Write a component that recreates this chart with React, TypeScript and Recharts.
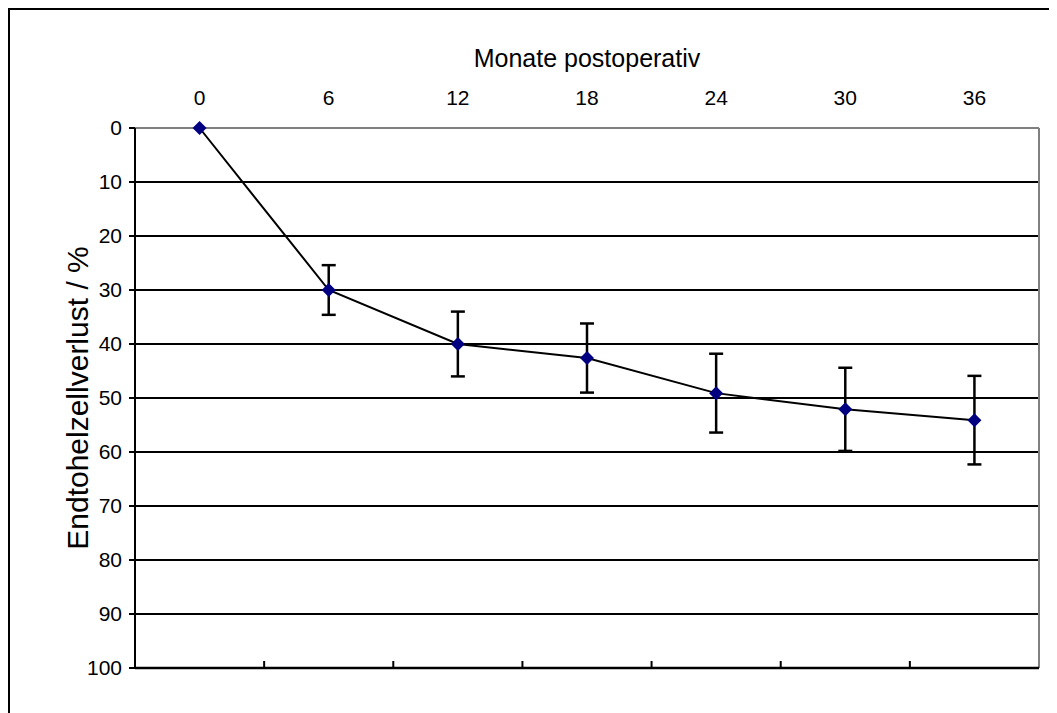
import React from 'react';
import {
  LineChart,
  Line,
  XAxis,
  YAxis,
  CartesianGrid,
  ErrorBar,
  ReferenceLine,
} from 'recharts';

// Endothelzellverlust nach Monaten postoperativ (Mittelwert ± SD)
const months = [0, 6, 12, 18, 24, 30, 36];
const lossMean = [0, 30, 40, 42.6, 49.1, 52.1, 54.1];
const lossSd = [0, 4.6, 6, 6.4, 7.3, 7.7, 8.2];
const yTicks = [0, 10, 20, 30, 40, 50, 60, 70, 80, 90, 100];
const boundaryTicks = [3, 9, 15, 21, 27, 33];

const data = months.map((m, i) => ({ month: m, loss: lossMean[i], sd: lossSd[i] }));

const FONT = '"Liberation Sans", Arial, sans-serif';

const Diamond = (props: any) => {
  const { cx, cy } = props;
  if (cx == null || cy == null) return null;
  const r = 7;
  return (
    <polygon
      points={`${cx},${cy - r} ${cx + r},${cy} ${cx},${cy + r} ${cx - r},${cy}`}
      fill="#000080"
    />
  );
};

const NoLabel = () => <g />;

const App: React.FC = () => {
  return (
    <div style={{ position: 'relative', width: 1049, height: 705, overflow: 'hidden' }}>
      <div
        style={{
          position: 'absolute',
          left: 0,
          top: 0,
          width: 1060,
          height: 800,
          borderTop: '2px solid #000',
          borderLeft: '2px solid #000',
          boxSizing: 'border-box',
        }}
      />
      <LineChart
        width={1040}
        height={700}
        data={data}
        margin={{ top: 0, right: 9, bottom: 40, left: 0 }}
        style={{ fontFamily: FONT }}
      >
        <CartesianGrid vertical={false} stroke="#000" strokeWidth={2} />
        <XAxis
          dataKey="month"
          type="number"
          orientation="top"
          domain={[-3, 39]}
          ticks={months}
          height={120}
          tickLine={false}
          axisLine={false}
          tickSize={0}
          tickMargin={23}
          tick={{ fill: '#000', fontSize: 21 }}
          label={{
            value: 'Monate postoperativ',
            position: 'insideTop',
            offset: 41,
            fill: '#000',
            fontSize: 25,
          }}
        />
        {/* category boundary ticks pointing up from the bottom line */}
        <XAxis
          xAxisId="bottom"
          dataKey="month"
          type="number"
          orientation="bottom"
          domain={[-3, 39]}
          ticks={boundaryTicks}
          height={40}
          mirror
          tick={<NoLabel />}
          tickSize={7}
          tickLine={{ stroke: '#000', strokeWidth: 2 }}
          axisLine={{ stroke: '#000', strokeWidth: 2.5 }}
        />
        <YAxis
          reversed
          domain={[0, 100]}
          ticks={yTicks}
          width={127}
          tickSize={6}
          tickMargin={7}
          interval={0}
          tick={{ fill: '#000', fontSize: 21 }}
          tickLine={{ stroke: '#000', strokeWidth: 2 }}
          axisLine={{ stroke: '#000', strokeWidth: 2 }}
          label={{
            value: 'Endtohelzellverlust / %',
            angle: -90,
            position: 'center',
            dx: 6,
            fill: '#000',
            fontSize: 30,
          }}
        />
        <ReferenceLine y={0} stroke="#808080" strokeWidth={2} />
        <ReferenceLine x={39} stroke="#808080" strokeWidth={2} />
        <Line
          dataKey="loss"
          stroke="#000"
          strokeWidth={2}
          dot={<Diamond />}
          activeDot={false}
          isAnimationActive={false}
        >
          <ErrorBar dataKey="sd" width={7} stroke="#000" strokeWidth={2.5} direction="y" />
        </Line>
      </LineChart>
    </div>
  );
};

export default App;
